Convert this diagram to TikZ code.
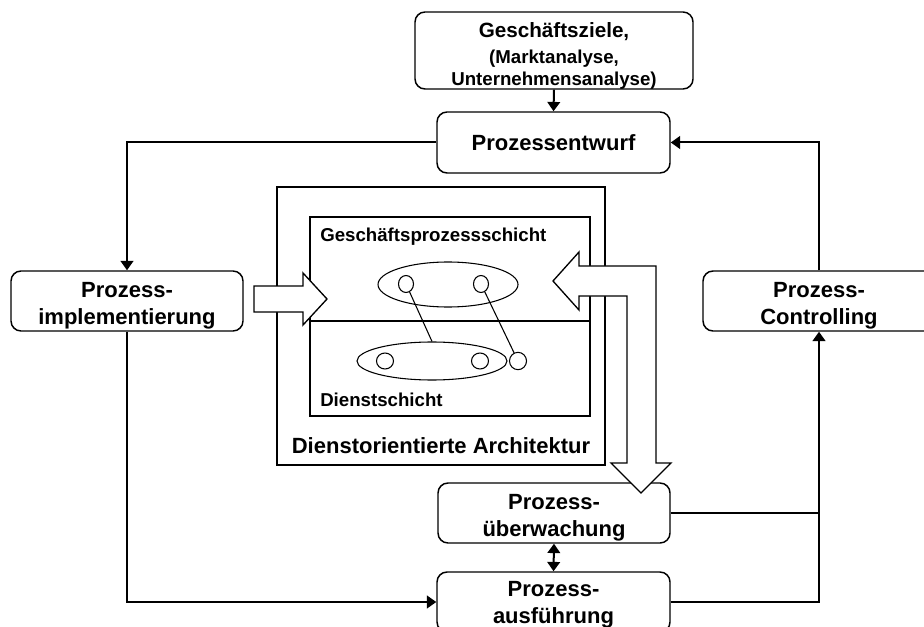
\documentclass[tikz,border=0pt]{standalone}
\usepackage{fontspec}
\setmainfont{Liberation Sans}
\usetikzlibrary{arrows.meta,shapes.geometric}

\begin{document}
\begin{tikzpicture}[x=0.75pt,y=-0.75pt,
  procbox/.style={draw, line width=1.1pt, rounded corners=7.5pt, inner sep=0pt},
  boxtext/.style={align=center, inner sep=0pt, font=\bfseries\fontsize{16.5}{20.25}\selectfont},
  flow/.style={line width=1.5pt, -{Triangle[length=7pt,width=9.5pt]}},
  frame/.style={draw, line width=1.1pt, inner sep=0pt},
  layerlabel/.style={anchor=west, inner sep=0pt, font=\bfseries\fontsize{14}{16.5}\selectfont},
  grp/.style={draw, ellipse, line width=0.8pt, inner sep=0pt},
  svc/.style={draw, ellipse, line width=0.8pt, inner sep=0pt, minimum width=11.25pt, minimum height=12.75pt},
  blockarrow/.style={draw, fill=white, line width=1pt, line join=miter}
]
\clip (0,0) rectangle (924,627);

% service-oriented architecture frame and its two layers
\node[frame, minimum width=246pt, minimum height=208.5pt] (soa) at (441,326) {};
\node[frame, minimum width=210pt, minimum height=149.25pt] (layers) at (450,316.5) {};
\coordinate (divl) at (310,321);
\coordinate (divr) at (590,321);
\draw[line width=1.1pt] (divl) -- (divr);
\node[layerlabel] (gps) at (320,237) {Geschäftsprozessschicht};
\node[layerlabel] (dst) at (320,400) {Dienstschicht};
\node[inner sep=0pt, font=\bfseries\fontsize{16.5}{20}\selectfont] (soalabel) at (441,446) {Dienstorientierte Architektur};

% process and service groups
\node[grp, minimum width=105pt, minimum height=33.75pt] (up) at (448,284.5) {};
\node[grp, minimum width=112.5pt, minimum height=28.5pt] (lo) at (432,361) {};
\node[svc] (u1) at (406,284) {};
\node[svc] (u2) at (481,284) {};
\node[svc, minimum width=12.75pt, minimum height=12pt] (l1) at (385,361) {};
\node[svc, minimum width=12.75pt, minimum height=12pt] (l2) at (480,361) {};
\node[svc, minimum width=12.75pt, minimum height=13pt] (s1) at (518,361) {};
\draw[line width=0.8pt] (u1) -- (lo.north);
\draw[line width=0.8pt] (u2) -- (s1);

% process life cycle: boxes
\node[procbox, minimum width=208.5pt, minimum height=57.75pt] (ziel) at (554,50.5) {};
\node[procbox, minimum width=174.75pt, minimum height=45.75pt] (entwurf) at (553.5,142.5) {};
\node[procbox, minimum width=174pt, minimum height=45pt] (impl) at (127,301) {};
\node[procbox, minimum width=174pt, minimum height=45pt] (ctrl) at (819,301) {};
\node[procbox, minimum width=174pt, minimum height=45pt] (ueber) at (554,513) {};
\node[procbox, minimum width=174.75pt, minimum height=45pt] (ausf) at (553.5,602) {};

% process life cycle: box texts
\node[boxtext, font=\bfseries\fontsize{14}{16.5}\selectfont, yshift=-4pt] (zieltext) at (ziel.center)
  {{\fontsize{15.5}{16.5}\selectfont Geschäftsziele,}\\[3pt](Marktanalyse,\\Unternehmensanalyse)};
\node[boxtext] (entwurftext) at (entwurf.center) {Prozessentwurf};
\node[boxtext, yshift=-3.6pt] (impltext) at (impl.center) {Prozess-\\implementierung};
\node[boxtext, yshift=-3.6pt] (ctrltext) at (ctrl.center) {Prozess-\\Controlling};
\node[boxtext, yshift=-3.6pt] (uebertext) at (ueber.center) {Prozess-\\überwachung};
\node[boxtext, yshift=-2.4pt] (ausftext) at (ausf.center) {Prozess-\\ausführung};

% connectors
\draw[flow] (ziel.south) -- (entwurf.north);
\draw[flow] (entwurf.west) -| (impl.north);
\draw[flow] (ctrl.north) |- (entwurf.east);
\draw[flow] (impl.south) |- (ausf.west);
\draw[flow] (ausf.east) -| (ctrl.south);
\draw[line width=1.5pt] (ueber.east) -- (ueber.east -| ctrl.south);
\draw[line width=1.5pt, {Triangle[length=7pt,width=9.5pt]}-{Triangle[length=7pt,width=9.5pt]}] (ueber.south) -- (ausf.north);

% hollow block arrows: implementation into the architecture, architecture into monitoring
\draw[blockarrow] (254,286) -- (303,286) -- (303,273) -- (327,299) -- (303,325) -- (303,312) -- (254,312) -- cycle;
\draw[blockarrow] (553,281) -- (579,252) -- (579,266) -- (656,266) -- (656,463) -- (671,463)
  -- (641,493) -- (611,463) -- (627,463) -- (627,296) -- (579,296) -- (579,310) -- cycle;
\end{tikzpicture}
\end{document}
